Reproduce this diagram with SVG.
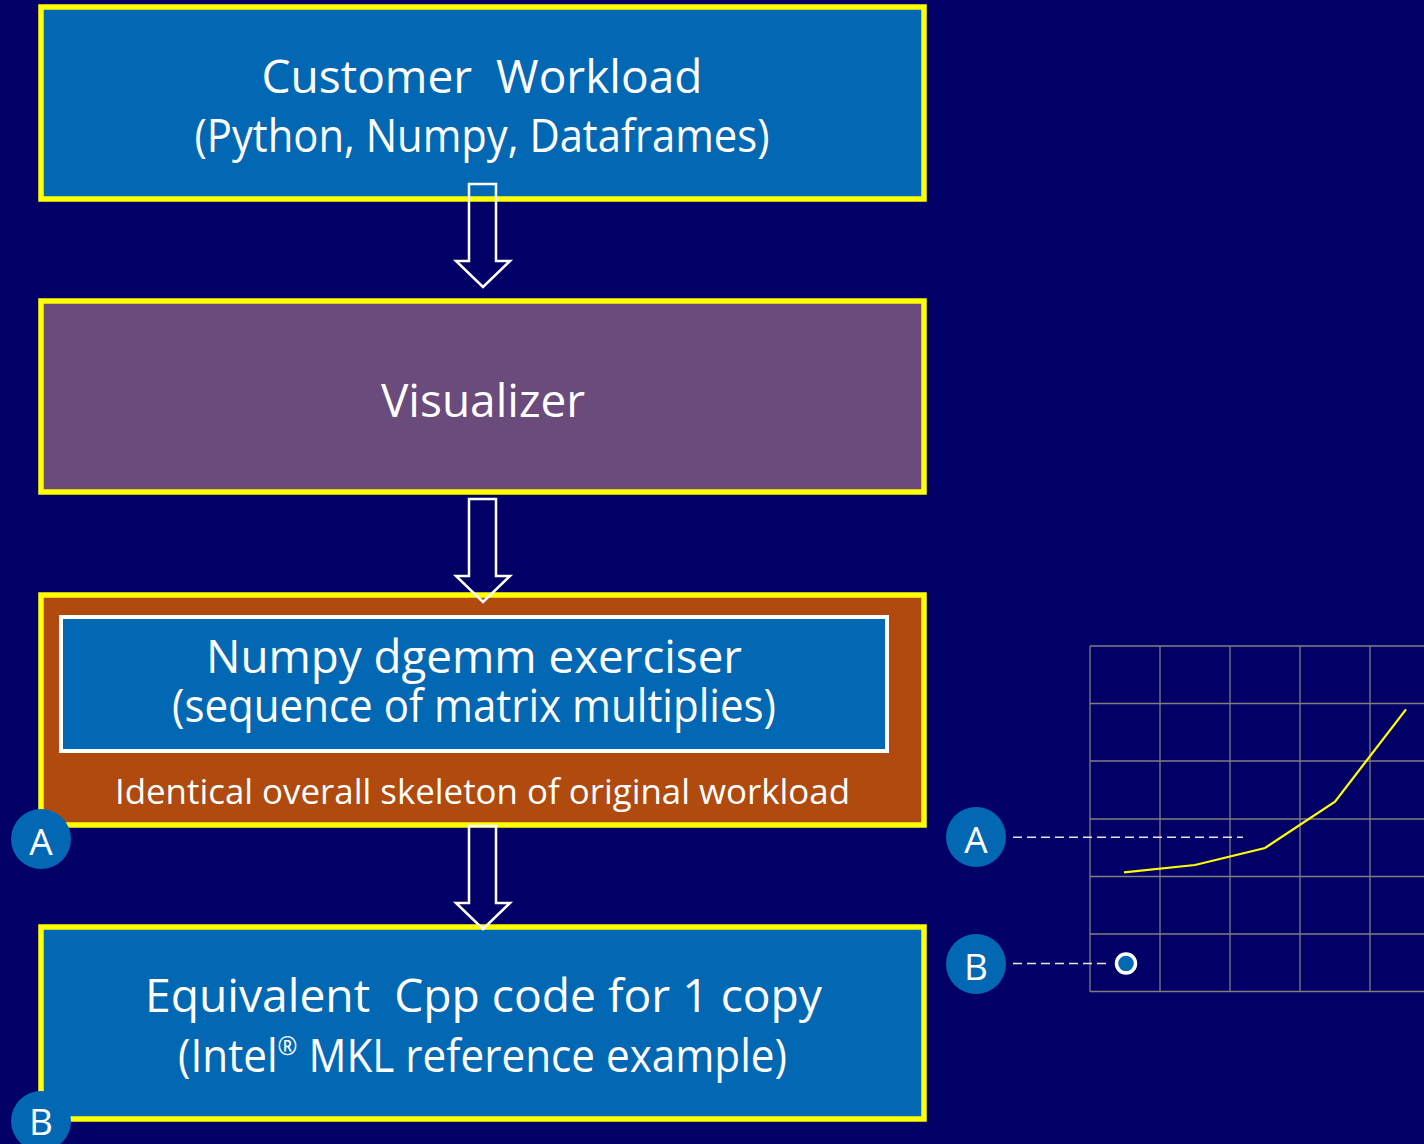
<svg xmlns="http://www.w3.org/2000/svg" width="1424" height="1144" viewBox="0 0 1424 1144">
  <style>
    .frame { stroke: #ffff00; stroke-width: 5.5; }
    .blue { fill: #0368b4; }
    .purple { fill: #6b4a7c; }
    .rust { fill: #b04a0e; }
    .t { font-family: "Open Sans", "Noto Sans", sans-serif; fill: #ffffff; text-anchor: middle; }
    .big { font-size: 46px; }
    .mid { font-size: 35px; }
    .badge { fill: #0368b4; }
    .badge-t { font-family: "Open Sans", "Noto Sans", sans-serif; fill: #ffffff; text-anchor: middle; font-size: 37px; }
    .arrow { fill: none; stroke: #ffffff; stroke-width: 2.5; stroke-linejoin: miter; }
    .grid line { stroke: #7f7f7f; stroke-width: 1.3; }
    .dash { stroke: #e6e6e6; stroke-width: 1.6; stroke-dasharray: 9 5; fill: none; }
  </style>

  <rect x="0" y="0" width="1424" height="1144" fill="#020066"/>

  <!-- Workload box -->
  <g id="node-customer-workload">
    <rect class="frame blue" x="41" y="7" width="883" height="192"/>
    <text class="t big" x="482" y="93" xml:space="preserve" textLength="441" lengthAdjust="spacingAndGlyphs">Customer  Workload</text>
    <text class="t big" x="482" y="152" textLength="575" lengthAdjust="spacingAndGlyphs">(Python, Numpy, Dataframes)</text>
  </g>

  <!-- Visualizer box -->
  <g id="node-visualizer">
    <rect class="frame purple" x="41" y="301" width="883" height="191"/>
    <text class="t big" x="483" y="417">Visualizer</text>
  </g>

  <!-- Exerciser box with inner panel -->
  <g id="node-exerciser">
    <rect class="frame rust" x="41" y="595" width="883" height="230"/>
    <rect class="blue" x="61" y="617" width="826" height="134" stroke="#ffffff" stroke-width="4"/>
    <text class="t big" x="474" y="673" textLength="536" lengthAdjust="spacingAndGlyphs">Numpy dgemm exerciser</text>
    <text class="t big" x="474" y="722" textLength="604" lengthAdjust="spacingAndGlyphs">(sequence of matrix multiplies)</text>
    <text class="t mid" x="482.5" y="804" textLength="735" lengthAdjust="spacingAndGlyphs">Identical overall skeleton of original workload</text>
  </g>

  <!-- C++ equivalent box -->
  <g id="node-cpp">
    <rect class="frame blue" x="41" y="927" width="883" height="192"/>
    <text class="t big" x="483.5" y="1012" xml:space="preserve" textLength="677" lengthAdjust="spacingAndGlyphs">Equivalent  Cpp code for 1 copy</text>
    <text class="t big" x="482.5" y="1072" textLength="609" lengthAdjust="spacingAndGlyphs">(Intel<tspan font-size="26px" dy="-17">®</tspan><tspan dy="17"> MKL reference example)</tspan></text>
  </g>

  <!-- Badges -->
  <g id="badge-a-left">
    <circle class="badge" cx="41" cy="839" r="30"/>
    <text class="badge-t" x="41" y="855">A</text>
  </g>
  <g id="badge-b-left">
    <circle class="badge" cx="41" cy="1121" r="30"/>
    <text class="badge-t" x="41" y="1135">B</text>
  </g>
  <g id="badge-a-right">
    <circle class="badge" cx="976" cy="837" r="30"/>
    <text class="badge-t" x="976" y="853">A</text>
  </g>
  <g id="badge-b-right">
    <circle class="badge" cx="976" cy="964" r="30"/>
    <text class="badge-t" x="976" y="980">B</text>
  </g>

  <!-- Chart grid -->
  <g id="chart" class="grid">
    <line x1="1090" y1="646" x2="1424" y2="646"/>
    <line x1="1090" y1="703.5" x2="1424" y2="703.5"/>
    <line x1="1090" y1="761" x2="1424" y2="761"/>
    <line x1="1090" y1="819" x2="1424" y2="819"/>
    <line x1="1090" y1="876.5" x2="1424" y2="876.5"/>
    <line x1="1090" y1="934" x2="1424" y2="934"/>
    <line x1="1090" y1="991.5" x2="1424" y2="991.5"/>
    <line x1="1090" y1="646" x2="1090" y2="991.5"/>
    <line x1="1160" y1="646" x2="1160" y2="991.5"/>
    <line x1="1230" y1="646" x2="1230" y2="991.5"/>
    <line x1="1300" y1="646" x2="1300" y2="991.5"/>
    <line x1="1370" y1="646" x2="1370" y2="991.5"/>
    <polyline points="1124,872.3 1195,865 1265,848 1335,801.7 1406,709.3" fill="none" stroke="#ffff00" stroke-width="2.2"/>
    <circle cx="1126" cy="963.5" r="9.5" fill="#0368b4" stroke="#ffffff" stroke-width="3.5"/>
  </g>

  <!-- Connectors -->
  <g id="connectors">
    <path class="arrow" d="M469,184 H496 V261 H510 L483,287 L456,261 H469 Z"/>
    <path class="arrow" d="M469,499 H496 V576 H510 L483,602 L456,576 H469 Z"/>
    <path class="arrow" d="M469,826 H496 V903 H510 L483,929 L456,903 H469 Z"/>
    <line class="dash" x1="1013" y1="837.3" x2="1243" y2="837.3"/>
    <line class="dash" x1="1013" y1="963.5" x2="1110" y2="963.5"/>
  </g>
</svg>
